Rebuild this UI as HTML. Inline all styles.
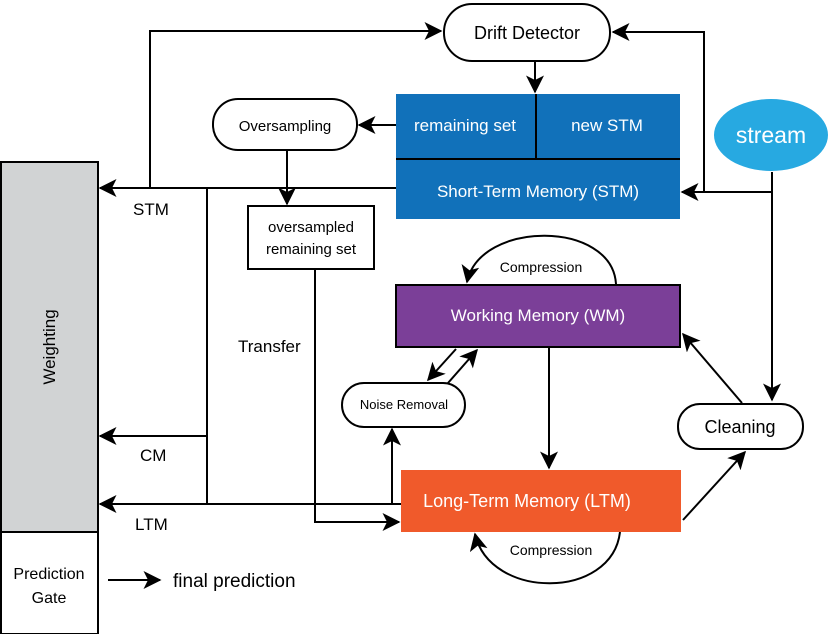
<!DOCTYPE html>
<html><head><meta charset="utf-8"><style>
body{margin:0;background:#fff}
svg{display:block;font-family:"Liberation Sans",sans-serif}
</style></head><body>
<svg width="830" height="634" viewBox="0 0 830 634" xmlns="http://www.w3.org/2000/svg">
<defs>
<marker id="a" viewBox="0 0 12 12" refX="11" refY="6" markerWidth="20" markerHeight="18" markerUnits="userSpaceOnUse" orient="auto">
<path d="M0,0 L12,6 L0,12 L3,6 Z" fill="#000"/></marker>
</defs>
<g stroke="#000" stroke-width="2" fill="none">
<polyline points="150,188 150,31 441,31" marker-end="url(#a)"/>
<polyline points="772,172 772,192 682,192" marker-end="url(#a)"/>
<polyline points="704,192 704,32 613,32" marker-end="url(#a)"/>
<line x1="772" y1="172" x2="772" y2="400" marker-end="url(#a)"/>
<line x1="535" y1="61" x2="535" y2="92" marker-end="url(#a)"/>
<line x1="396" y1="125" x2="359" y2="125" marker-end="url(#a)"/>
<line x1="287" y1="150" x2="287" y2="204" marker-end="url(#a)"/>
<line x1="396" y1="188" x2="100" y2="188" marker-end="url(#a)"/>
<line x1="207" y1="188" x2="207" y2="504"/>
<line x1="207" y1="436" x2="100" y2="436" marker-end="url(#a)"/>
<line x1="401" y1="504" x2="100" y2="504" marker-end="url(#a)"/>
<polyline points="315,269 315,522 399,522" marker-end="url(#a)"/>
<line x1="392" y1="504" x2="392" y2="429" marker-end="url(#a)"/>
<line x1="549" y1="347" x2="549" y2="468" marker-end="url(#a)"/>
<line x1="456" y1="349" x2="428" y2="380" marker-end="url(#a)"/>
<line x1="448" y1="383" x2="477" y2="350" marker-end="url(#a)"/>
<line x1="742" y1="403" x2="683" y2="334" marker-end="url(#a)"/>
<line x1="683" y1="520" x2="745" y2="452" marker-end="url(#a)"/>
<path d="M616,284 C612,220 480,220 467,282" marker-end="url(#a)"/>
<path d="M620,532 C612,600 490,600 475,534" marker-end="url(#a)"/>
<line x1="108" y1="580" x2="160" y2="580" marker-end="url(#a)"/>
</g>
<rect x="444" y="4" width="166" height="57" rx="28" fill="#fff" stroke="#000" stroke-width="2"/>
<text x="527" y="39" font-size="18" text-anchor="middle">Drift Detector</text>
<rect x="396" y="94" width="284" height="125" fill="#1171ba"/>
<line x1="396" y1="159" x2="680" y2="159" stroke="#000" stroke-width="2"/>
<line x1="536" y1="94" x2="536" y2="159" stroke="#000" stroke-width="2"/>
<g fill="#fff" text-anchor="middle">
<text x="465" y="131" font-size="17">remaining set</text>
<text x="607" y="131" font-size="17">new STM</text>
<text x="538" y="197" font-size="17">Short-Term Memory (STM)</text>
</g>
<ellipse cx="771" cy="135" rx="57" ry="36" fill="#27a9e1"/>
<text x="771" y="143" font-size="23" fill="#fff" text-anchor="middle">stream</text>
<rect x="213" y="99" width="144" height="51" rx="25" fill="#fff" stroke="#000" stroke-width="2"/>
<text x="285" y="131" font-size="15" text-anchor="middle">Oversampling</text>
<rect x="248" y="206" width="126" height="63" fill="#fff" stroke="#000" stroke-width="2"/>
<text x="311" y="232" font-size="15" text-anchor="middle">oversampled</text>
<text x="311" y="254" font-size="15" text-anchor="middle">remaining set</text>
<rect x="1" y="162" width="97" height="370" fill="#d1d3d4" stroke="#000" stroke-width="2"/>
<text transform="translate(55,347) rotate(-90)" font-size="17" text-anchor="middle">Weighting</text>
<rect x="1" y="532" width="97" height="102" fill="#fff" stroke="#000" stroke-width="2"/>
<text x="49" y="579" font-size="16" text-anchor="middle">Prediction</text>
<text x="49" y="603" font-size="16" text-anchor="middle">Gate</text>
<text x="173" y="587" font-size="19">final prediction</text>
<text x="133" y="215" font-size="17">STM</text>
<text x="140" y="461" font-size="17">CM</text>
<text x="135" y="530" font-size="17">LTM</text>
<text x="238" y="352" font-size="17">Transfer</text>
<rect x="396" y="285" width="284" height="62" fill="#7b3f98" stroke="#000" stroke-width="2"/>
<text x="538" y="321" font-size="17" fill="#fff" text-anchor="middle">Working Memory (WM)</text>
<text x="541" y="272" font-size="14" text-anchor="middle">Compression</text>
<rect x="342" y="383" width="123" height="44" rx="22" fill="#fff" stroke="#000" stroke-width="2"/>
<text x="404" y="409" font-size="13" text-anchor="middle">Noise Removal</text>
<rect x="401" y="470" width="280" height="62" fill="#f05a2b"/>
<text x="527" y="507" font-size="18" fill="#fff" text-anchor="middle">Long-Term Memory (LTM)</text>
<text x="551" y="555" font-size="14" text-anchor="middle">Compression</text>
<rect x="678" y="404" width="125" height="45" rx="22" fill="#fff" stroke="#000" stroke-width="2"/>
<text x="740" y="433" font-size="18" text-anchor="middle">Cleaning</text>
</svg>
</body></html>
